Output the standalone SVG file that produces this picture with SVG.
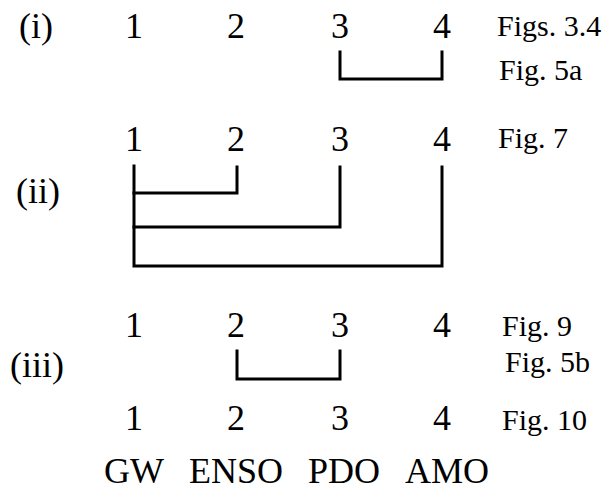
<svg xmlns="http://www.w3.org/2000/svg" width="612" height="492" viewBox="0 0 612 492">
<style>
text{font-family:"Liberation Serif","Times New Roman",serif;fill:#000}
.n{font-size:36px;text-anchor:middle}
.r{font-size:36px}
.w{font-size:36px}
.f{font-size:30px}
.b{fill:none;stroke:#000;stroke-width:3;stroke-linecap:square;stroke-linejoin:miter}
</style>
<rect width="612" height="492" fill="#fff"/>
<g id="row-i">
<text class="r" x="19" y="38">(i)</text>
<text class="n" x="134" y="38">1</text>
<text class="n" x="236" y="38">2</text>
<text class="n" x="340" y="38">3</text>
<text class="n" x="442" y="38">4</text>
<text class="f" x="497" y="36">Figs. 3.4</text>
<text class="f" x="499" y="80">Fig. 5a</text>
</g>
<g id="row-ii">
<text class="n" x="134" y="151">1</text>
<text class="n" x="236" y="151">2</text>
<text class="n" x="340" y="151">3</text>
<text class="n" x="442" y="151">4</text>
<text class="f" x="498" y="148">Fig. 7</text>
<text class="r" x="16" y="203">(ii)</text>
</g>
<g id="row-iii">
<text class="n" x="134" y="337">1</text>
<text class="n" x="236" y="337">2</text>
<text class="n" x="340" y="337">3</text>
<text class="n" x="442" y="337">4</text>
<text class="f" x="502" y="336">Fig. 9</text>
<text class="r" x="10" y="377">(iii)</text>
<text class="f" x="505" y="372">Fig. 5b</text>
<text class="n" x="134" y="430">1</text>
<text class="n" x="236" y="430">2</text>
<text class="n" x="340" y="430">3</text>
<text class="n" x="442" y="430">4</text>
<text class="f" x="502" y="430">Fig. 10</text>
</g>
<g id="labels">
<text class="w" x="104" y="483">GW</text>
<text class="w" x="189" y="483">ENSO</text>
<text class="w" x="308" y="483">PDO</text>
<text class="w" x="405" y="483">AMO</text>
</g>
<g id="connectors">
<path class="b" d="M340 52V79H442V52"/>
<path class="b" d="M134 166V266H442V167"/>
<path class="b" d="M134 193H237V167"/>
<path class="b" d="M134 227H340V167"/>
<path class="b" d="M237 351V379H340V351"/>
</g>
</svg>
